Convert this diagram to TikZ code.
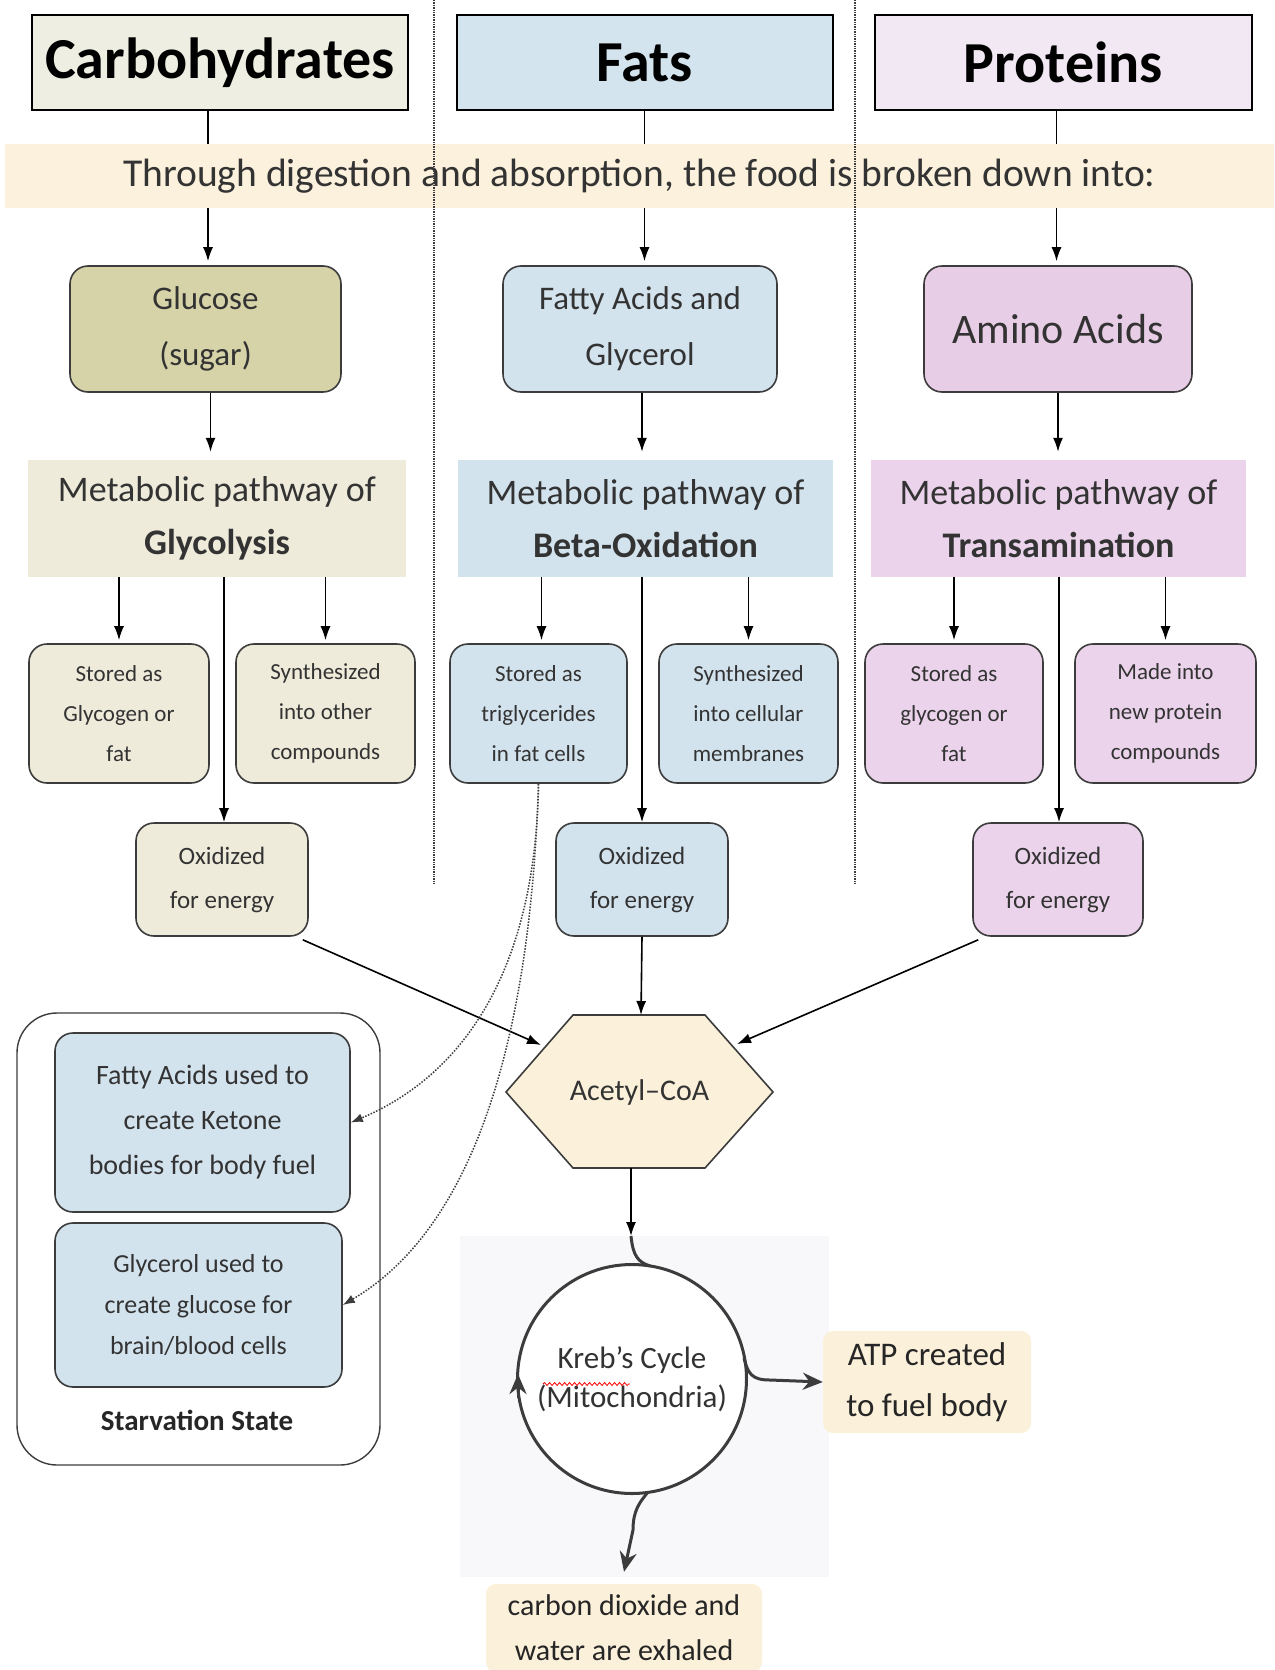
\documentclass[tikz,border=0pt]{standalone}
\usepackage{fontspec}
\setmainfont{Carlito}
\usetikzlibrary{arrows.meta,decorations.pathmorphing}
\definecolor{bordergray}{HTML}{3C3C3C}
\definecolor{txtgray}{HTML}{333333}
\definecolor{hdrC}{HTML}{EEEEE2}
\definecolor{hdrF}{HTML}{D4E4EE}
\definecolor{hdrP}{HTML}{F2E8F3}
\definecolor{bannerC}{HTML}{FBF1DC}
\definecolor{glucC}{HTML}{D6D3A8}
\definecolor{carbC}{HTML}{EEEBDB}
\definecolor{fatC}{HTML}{D3E3EE}
\definecolor{aminoC}{HTML}{E8CDE6}
\definecolor{protC}{HTML}{EBD4EB}
\definecolor{tanC}{HTML}{FBF0D9}
\definecolor{ghostC}{HTML}{F8F8FA}
\begin{document}
\begin{tikzpicture}[x=1pt,y=-1pt,
  hdr/.style={draw=black, line width=2pt, minimum height=95pt, inner sep=0pt,
    font=\fontsize{58}{60}\selectfont\bfseries},
  rbox/.style={draw=bordergray, line width=1.6pt, rounded corners=18pt, align=center,
    inner sep=0pt, text=txtgray},
  subbox/.style={rbox, minimum height=139pt, font=\fontsize{23}{40}\selectfont},
  oxbox/.style={rbox, minimum height=113pt, minimum width=172pt, font=\fontsize{25}{44}\selectfont},
  metabox/.style={align=center, inner sep=0pt, minimum height=117pt, minimum width=376pt,
    text=txtgray, font=\fontsize{36}{53}\selectfont},
  arr/.style={-{Latex[length=14pt,width=10pt]}, line width=1.6pt},
  thk/.style={line width=3pt, draw=bordergray},
  thkarr/.style={thk, -{Stealth[length=20pt,width=17pt]}},
  dotarr/.style={dash pattern=on 1.5pt off 1.5pt, line width=1.5pt, draw=bordergray, -{Latex[length=12pt,width=9pt]}},
  sep/.style={densely dotted, line width=1.4pt, draw=bordergray}
]
\useasboundingbox (0,0) rectangle (1274,1670);
\fill[white] (0,0) rectangle (1274,1670);

% headers
\node[hdr, fill=hdrC, minimum width=376pt] (carbH) at (220,62.5) {Carbohydrates};
\node[hdr, fill=hdrF, minimum width=376pt] (fatH) at (644.5,62.5) {Fats};
\node[hdr, fill=hdrP, minimum width=377pt] (protH) at (1063.5,62.5) {Proteins};

% banner
\node[fill=bannerC, minimum width=1269pt, minimum height=64pt, inner sep=0pt, text=txtgray,
  font=\fontsize{39.5}{42}\selectfont] (banner) at (639.5,176)
  {Through digestion and absorption, the food is broken down into:};

% separators
\draw[sep] (434,0) -- (434,884);
\draw[sep] (855,0) -- (855,884);

% level 2
\node[rbox, fill=glucC, minimum width=271pt, minimum height=126pt,
  font=\fontsize{33}{56}\selectfont] (gluc) at (205.5,329) {Glucose\\(sugar)};
\node[rbox, fill=fatC, minimum width=274pt, minimum height=126pt,
  font=\fontsize{33}{56}\selectfont] (fatty) at (640,329) {Fatty Acids and\\Glycerol};
\node[rbox, fill=aminoC, minimum width=268pt, minimum height=126pt,
  font=\fontsize{42}{50}\selectfont] (amino) at (1058,329) {Amino Acids};

% metabolic
\node[metabox, fill=carbC, minimum width=378pt] (metaC) at (217,518.5) {Metabolic pathway of\\\textbf{Glycolysis}};
\node[metabox, fill=fatC, minimum width=375pt] (metaF) at (645.5,518.5) {Metabolic pathway of\\\textbf{Beta-Oxidation}};
\node[metabox, fill=protC, minimum width=375pt] (metaP) at (1058.5,518.5) {Metabolic pathway of\\\textbf{Transamination}};

% sub boxes
\node[subbox, fill=carbC, minimum width=180pt] (c1) at (119,713.5) {Stored as\\Glycogen or\\fat};
\node[subbox, fill=carbC, minimum width=179pt] (c2) at (325.5,713.5) {Synthesized\\into other\\compounds};
\node[subbox, fill=fatC, minimum width=177pt] (f1) at (538.5,713.5) {Stored as\\triglycerides\\in fat cells};
\node[subbox, fill=fatC, minimum width=179pt] (f2) at (748.5,713.5) {Synthesized\\into cellular\\membranes};
\node[subbox, fill=protC, minimum width=178pt] (p1) at (954,713.5) {Stored as\\glycogen or\\fat};
\node[subbox, fill=protC, minimum width=181pt] (p2) at (1165.5,713.5) {Made into\\new protein\\compounds};

% oxidized
\node[oxbox, fill=carbC] (oxC) at (222,879.5) {Oxidized\\for energy};
\node[oxbox, fill=fatC] (oxF) at (642,879.5) {Oxidized\\for energy};
\node[oxbox, fill=protC, minimum width=170pt] (oxP) at (1058,879.5) {Oxidized\\for energy};

% hexagon
\coordinate (hA) at (573,1015);
\coordinate (hB) at (705,1015);
\coordinate (hC) at (773,1092);
\coordinate (hD) at (705,1168);
\coordinate (hE) at (573,1168);
\coordinate (hF) at (506,1092);
\draw[fill=tanC, draw=bordergray, line width=1.6pt] (hA) -- (hB) -- (hC) -- (hD) -- (hE) -- (hF) -- cycle;
\node[text=txtgray, font=\fontsize{30}{34}\selectfont, inner sep=0pt] (acetyl) at (639.5,1092) {Acetyl–CoA};
\coordinate (hUL) at (541,1045);
\coordinate (hUR) at (737,1044);
\coordinate (hTop) at (641,1015);
\coordinate (hBot) at (631,1168);

% starvation
\node[draw=bordergray, line width=1.4pt, rounded corners=40pt, minimum width=363pt, minimum height=452pt] (starv) at (198.5,1239) {};
\node[rbox, fill=fatC, minimum width=295pt, minimum height=179pt, font=\fontsize{28}{45}\selectfont] (s1) at (202.5,1122.5)
  {Fatty Acids used to\\create Ketone\\bodies for body fuel};
\node[rbox, fill=fatC, minimum width=287pt, minimum height=164pt, font=\fontsize{26}{41}\selectfont] (s2) at (198.5,1305)
  {Glycerol used to\\create glucose for\\brain/blood cells};
\node[font=\fontsize{29}{32}\selectfont\bfseries, text=black!85, inner sep=0pt] (starvlbl) at (197,1420) {Starvation State};

% ghost background and Krebs cycle
\fill[ghostC] (460,1236) rectangle (829,1577);
\node[circle, draw=bordergray, line width=3pt, fill=white, minimum size=229pt, inner sep=0pt,
  align=center, text=txtgray, font=\fontsize{31}{39}\selectfont] (krebs) at (632,1379) {Kreb's Cycle\\(Mitochondria)};
\draw[red, line width=0.8pt, decorate, decoration={snake, amplitude=1.5pt, segment length=5pt}] (543,1384) -- (630,1384);

\node[fill=tanC, rounded corners=10pt, minimum width=208pt, minimum height=102pt, inner sep=0pt, align=center,
  text=black!85, font=\fontsize{33}{51}\selectfont] (atp) at (927,1382) {ATP created\\to fuel body};
\node[fill=tanC, rounded corners=10pt, minimum width=276pt, minimum height=88pt, inner sep=0pt, align=center,
  text=black!85, font=\fontsize{30}{45}\selectfont] (co2) at (624,1628) {carbon dioxide and\\water are exhaled};

% connectors: headers -> banner -> level 2
\draw[line width=1.6pt] ([xshift=-12pt]carbH.south) -- ([xshift=-12pt]carbH.south |- banner.north);
\draw[line width=1.6pt] (fatH.south) -- (fatH.south |- banner.north);
\draw[line width=1.6pt] ([xshift=-7pt]protH.south) -- ([xshift=-7pt]protH.south |- banner.north);
\draw[arr, shorten >=4pt] ([xshift=-12pt]carbH.south |- banner.south) -- ([xshift=-12pt]carbH.south |- gluc.north);
\draw[arr, shorten >=4pt] (fatH.south |- banner.south) -- (fatH.south |- fatty.north);
\draw[arr, shorten >=4pt] ([xshift=-7pt]protH.south |- banner.south) -- ([xshift=-7pt]protH.south |- amino.north);

% level 2 -> meta
\draw[arr, shorten >=8pt] ([xshift=5pt]gluc.south) -- ([xshift=5pt]gluc.south |- metaC.north);
\draw[arr, shorten >=8pt] ([xshift=2pt]fatty.south) -- ([xshift=2pt]fatty.south |- metaF.north);
\draw[arr, shorten >=8pt] (amino.south) -- (amino.south |- metaP.north);

% meta -> sub
\draw[arr, shorten >=3pt] (c1.north |- metaC.south) -- (c1.north);
\draw[arr, shorten >=3pt] (c2.north |- metaC.south) -- (c2.north);
\draw[arr, shorten >=3pt] ([xshift=3pt]f1.north |- metaF.south) -- ([xshift=3pt]f1.north);
\draw[arr, shorten >=3pt] (f2.north |- metaF.south) -- (f2.north);
\draw[arr, shorten >=3pt] (p1.north |- metaP.south) -- (p1.north);
\draw[arr, shorten >=3pt] (p2.north |- metaP.south) -- (p2.north);
\draw[arr] ([xshift=2pt]oxC.north |- metaC.south) -- ([xshift=2pt]oxC.north);
\draw[arr] (oxF.north |- metaF.south) -- (oxF.north);
\draw[arr] ([xshift=1pt]oxP.north |- metaP.south) -- ([xshift=1pt]oxP.north);

% oxidized -> acetyl
\draw[arr] ([xshift=-6pt,yshift=-3pt]oxC.south east) -- (hUL);
\draw[arr] (oxF.south) -- (hTop);
\draw[arr] ([xshift=6pt,yshift=-3pt]oxP.south west) -- (hUR);

% dotted starvation arrows
\draw[dotarr] (f1.south) .. controls (535,1000) and (440,1085) .. (s1.east);
\draw[dotarr] (f1.south) .. controls (530,1050) and (470,1230) .. (s2.east);

% acetyl -> krebs
\coordinate (kin) at (631,1236);
\draw[arr] (hBot) -- (kin);
\draw[thk] (kin) .. controls (633,1256) and (638,1262) .. (650,1266);
\draw[thkarr] (744,1358) .. controls (748,1374) and (752,1380) .. (770,1380) -- (atp.west);
\draw[thkarr] (648,1492) .. controls (640,1502) and (633,1510) .. (633,1530) -- ([yshift=12pt]co2.north);
\draw[thkarr] (518,1398) -- (518,1374);
\end{tikzpicture}
\end{document}
